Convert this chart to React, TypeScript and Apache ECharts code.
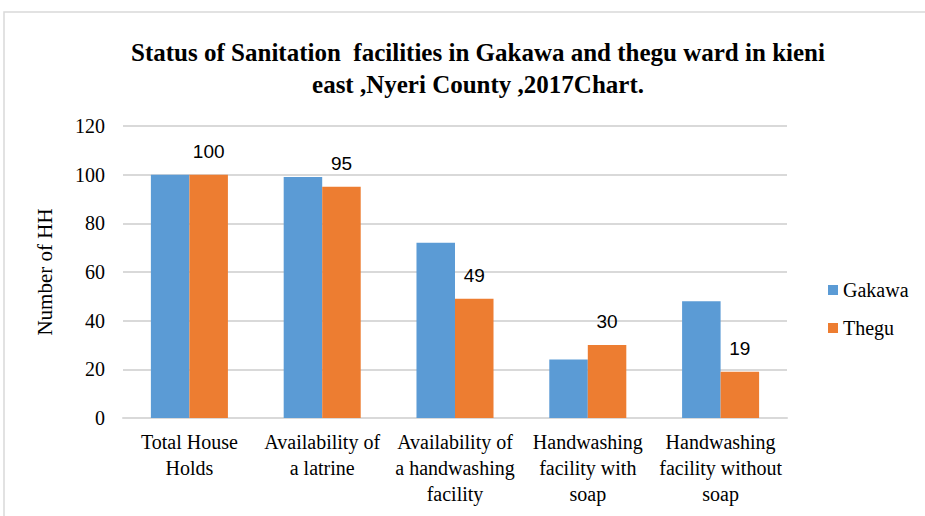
import React, { useEffect, useRef } from "react";
import * as echarts from "echarts";

const categories = [
  "Total House\nHolds",
  "Availability of\na latrine",
  "Availability of\na handwashing\nfacility",
  "Handwashing\nfacility with\nsoap",
  "Handwashing\nfacility without\nsoap",
];
const gakawa = [100, 99, 72, 24, 48];
const thegu = [100, 95, 49, 30, 19];
const titleText =
  "Status of Sanitation  facilities in Gakawa and thegu ward in kieni\neast ,Nyeri County ,2017Chart.";

const serif = "Liberation Serif";

export default function App() {
  const ref = useRef<HTMLDivElement>(null);
  useEffect(() => {
    if (!ref.current) return;
    const chart = echarts.init(ref.current, null, { renderer: "svg" });
    chart.setOption({
      animation: false,
      backgroundColor: "#ffffff",
      graphic: [
        {
          type: "rect",
          shape: { x: 4, y: 12, width: 1000, height: 1000 },
          style: { fill: "none", stroke: "#D9D9D9", lineWidth: 1.5 },
          silent: true,
        },
      ],
      title: {
        text: titleText,
        left: 473,
        textAlign: "center",
        top: 31,
        textStyle: {
          fontFamily: serif,
          fontWeight: "bold",
          fontSize: 25,
          lineHeight: 32,
          color: "#000000",
        },
      },
      legend: {
        orient: "vertical",
        left: 828,
        top: 280,
        padding: 0,
        itemWidth: 10,
        itemHeight: 10,
        itemGap: 18,
        icon: "rect",
        textStyle: { fontFamily: serif, fontSize: 20, color: "#000", lineHeight: 20 },
        data: ["Gakawa", "Thegu"],
      },
      grid: { left: 123, right: 138, top: 126, bottom: 98, containLabel: false },
      xAxis: {
        type: "category",
        data: categories,
        axisTick: { show: false },
        axisLine: { lineStyle: { color: "#D9D9D9", width: 2 } },
        axisLabel: {
          interval: 0,
          fontFamily: serif,
          fontSize: 20,
          lineHeight: 26,
          color: "#000",
          margin: 11,
        },
      },
      yAxis: {
        type: "value",
        min: 0,
        max: 120,
        interval: 20,
        name: "Number of HH",
        nameLocation: "middle",
        nameGap: 68,
        nameRotate: 90,
        nameTextStyle: { fontFamily: serif, fontSize: 21, color: "#000" },
        axisLabel: { fontFamily: serif, fontSize: 20, color: "#000", margin: 18 },
        splitLine: { lineStyle: { color: "#D9D9D9", width: 2 } },
        axisLine: { show: false },
        axisTick: { show: false },
      },
      series: [
        {
          name: "Gakawa",
          type: "bar",
          data: gakawa,
          barGap: "0%",
          barCategoryGap: "42%",
          itemStyle: { color: "#5B9BD5" },
        },
        {
          name: "Thegu",
          type: "bar",
          data: thegu,
          itemStyle: { color: "#ED7D31" },
          label: {
            show: true,
            position: "top",
            distance: 14,
            fontFamily: "Liberation Sans",
            fontSize: 19,
            color: "#000",
          },
        },
      ],
    });
    return () => chart.dispose();
  }, []);
  return (
    <div
      ref={ref}
      style={{ position: "fixed", left: 0, top: 0, width: 925, height: 516 }}
    />
  );
}
